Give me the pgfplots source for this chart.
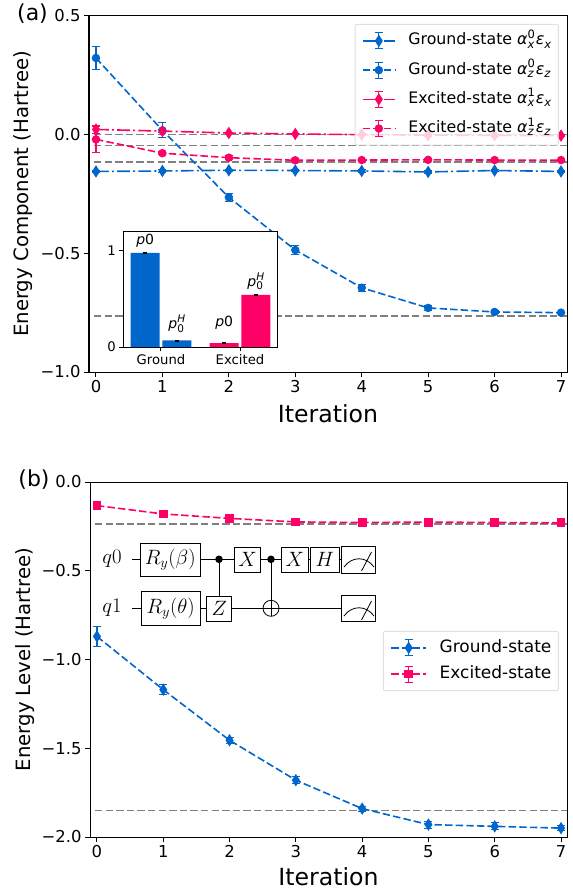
\documentclass[border=0pt]{standalone}
\usepackage[no-math]{fontspec}
\setmainfont{DejaVu Sans}
\usepackage{pgfplots}
\pgfplotsset{compat=1.18}
\definecolor{cblue}{HTML}{0066CC}
\definecolor{cpink}{HTML}{FF0066}
\newcommand{\fs}[1]{\fontsize{#1}{#1}\selectfont}
\newcommand{\subsup}[2]{\rlap{\raisebox{-0.4ex}{\fs{11.5}\textit{#1}}}\raisebox{0.75ex}{\fs{11.5}#2}\hspace{1pt}}
\newcommand{\legsub}[1]{\raisebox{-0.4ex}{\fs{11.5}\textit{#1}}}
\newcommand{\pnot}{\textit{p}0}
\newcommand{\pH}{\textit{p}\rlap{\raisebox{-0.45ex}{\fs{10.5}0}}\raisebox{0.8ex}{\fs{10.5}\textit{H}}}
\def\LLh{16pt}\def\LLw{32pt}
\pgfplotsset{
  mainax/.style={
    scale only axis, anchor=south west, width=478pt, height=356pt,
    xmin=-0.105, xmax=7.09,
    xtick={0,1,2,3,4,5,6,7},
    xtick pos=bottom, ytick pos=left,
    tick align=outside, major tick length=5pt,
    tick style={black,line width=1pt},
    axis line style={line width=1pt},
    ticklabel style={font=\fs{16.4}},
    /pgf/number format/assume math mode=true,
    xlabel=Iteration,
    xlabel style={font=\fs{23.6},anchor=center},
    ylabel style={font=\fs{19.7},at={(axis description cs:-0.137,0.5)},anchor=center},
  },
  errs/.style={error bars/.cd, y dir=both, y explicit,
    error bar style={solid,line width=1.2pt},
    error mark options={solid,rotate=90,mark size=4pt,line width=1pt}},
  dashA/.style={dash pattern=on 7.4pt off 3.2pt},
  dashB/.style={dash pattern=on 12.8pt off 3.2pt on 2pt off 3.2pt},
  ref/.style={gray,line width=1.6pt,dashA,forget plot,mark=none},
  thind/.style={mark=diamond*,mark size=4.8pt,mark options={solid,xscale=0.85}},
  leg/.style={
    legend image code/.code={
      \path[draw=none,fill=none] (0pt,0pt) rectangle (\LLw+13.5pt,0.01pt);
      \draw[##1,mark=none,solid,line width=1.2pt,opacity=1] (\LLh,-8pt)--(\LLh,8pt);
      \draw[##1,mark=none,solid,line width=1pt,opacity=1] (\LLh-4pt,8pt)--(\LLh+4pt,8pt) (\LLh-4pt,-8pt)--(\LLh+4pt,-8pt);
      \draw[##1,opacity=1,mark repeat=2,mark phase=2] plot coordinates {(0pt,0pt)(\LLh,0pt)(\LLw,0pt)};
    },
    legend cell align=left,
  },
}
\begin{document}
\begin{tikzpicture}
\path[use as bounding box] (0pt,0pt) rectangle (572pt,-890pt);
% panel (a)
\begin{axis}[mainax, leg, at={(89pt,-372pt)},
  xlabel style={at={(axis description cs:0.5,-0.118)}},
  ymin=-1, ymax=0.5, ytick={-1,-0.5,0,0.5},
  yticklabels={−1.0,−0.5,0.0,0.5},
  ylabel={Energy Component (Hartree)},
  legend style={at={(axis description cs:0.983,0.978)},anchor=north east,
    font=\fs{15.8}, draw=black!15, line width=1pt, fill=white, fill opacity=0.8, draw opacity=0.8, text opacity=1,
    rounded corners=2pt, row sep=12pt, inner xsep=7pt, inner ysep=8pt,
    nodes={inner sep=0pt, text height=11pt, text depth=3pt}},
]
\addplot[ref] coordinates {(-0.03,0) (7.09,0)};
\addplot[ref] coordinates {(-0.03,-0.046) (7.09,-0.046)};
\addplot[ref] coordinates {(-0.03,-0.114) (7.09,-0.114)};
\addplot[ref] coordinates {(-0.03,-0.765) (7.09,-0.765)};
\addplot[cblue,line width=1.6pt,dashB,thind,errs] coordinates {
 (0,-0.155)+-(0,0.006) (1,-0.153)+-(0,0.006) (2,-0.150)+-(0,0.005) (3,-0.151)+-(0,0.005)
 (4,-0.153)+-(0,0.005) (5,-0.157)+-(0,0.005) (6,-0.151)+-(0,0.005) (7,-0.155)+-(0,0.005)};
\addlegendentry{Ground-state \textit{α}\subsup{x}{0}\textit{ε}\legsub{x}}
\addplot[cblue,line width=1.6pt,dashA,mark=*,mark size=3.4pt,mark options={solid},errs] coordinates {
 (0,0.323)+-(0,0.05) (1,0.018)+-(0,0.032) (2,-0.264)+-(0,0.016) (3,-0.486)+-(0,0.017)
 (4,-0.645)+-(0,0.014) (5,-0.73)+-(0,0.010) (6,-0.747)+-(0,0.008) (7,-0.75)+-(0,0.002)};
\addlegendentry{Ground-state \textit{α}\subsup{z}{0}\textit{ε}\legsub{z}}
\addplot[cpink,line width=1.6pt,dashB,thind,errs] coordinates {
 (0,0.022)+-(0,0.015) (1,0.015)+-(0,0.006) (2,0.007)+-(0,0.004) (3,0.003)+-(0,0.004)
 (4,0)+-(0,0.004) (5,-0.002)+-(0,0.004) (6,-0.003)+-(0,0.004) (7,-0.004)+-(0,0.004)};
\addlegendentry{Excited-state \textit{α}\subsup{x}{1}\textit{ε}\legsub{x}}
\addplot[cpink,line width=1.6pt,dashA,mark=*,mark size=3.4pt,mark options={solid},errs] coordinates {
 (0,-0.02)+-(0,0.055) (1,-0.078)+-(0,0.006) (2,-0.097)+-(0,0.008) (3,-0.108)+-(0,0.006)
 (4,-0.107)+-(0,0.004) (5,-0.106)+-(0,0.004) (6,-0.107)+-(0,0.004) (7,-0.107)+-(0,0.004)};
\addlegendentry{Excited-state \textit{α}\subsup{z}{1}\textit{ε}\legsub{z}}
\end{axis}
% inset
\begin{axis}[scale only axis, anchor=south west, at={(123.3pt,-347pt)}, width=154pt, height=115.7pt,
  axis background/.style={fill=white},
  xmin=-0.477, xmax=1.472, ymin=0, ymax=1.2,
  xtick={0,1}, xticklabels={Ground,Excited}, ytick={0,1}, yticklabels={0,1},
  xtick pos=bottom, ytick pos=left, tick align=outside, major tick length=4pt,
  tick style={black,line width=1pt}, axis line style={line width=1pt},
  ticklabel style={font=\fs{13.2}},
  clip=false,
]
\addplot[ybar,bar width=0.367,bar shift=0pt,fill=cblue,draw=none,
  error bars/.cd,y dir=both,y explicit,error bar style={black,line width=0.7pt}] coordinates {(-0.2,0.976)+-(0,0.003) (0.2,0.07)+-(0,0.005)};
\addplot[ybar,bar width=0.367,bar shift=0pt,fill=cpink,draw=none,
  error bars/.cd,y dir=both,y explicit,error bar style={black,line width=0.7pt}] coordinates {(0.8,0.04)+-(0,0.005) (1.2,0.54)+-(0,0.003)};
\node[font=\fs{14}] at (axis cs:-0.2,1.10) {\pnot};
\node[font=\fs{14}] at (axis cs:0.2,0.24) {\pH};
\node[font=\fs{14}] at (axis cs:0.8,0.25) {\pnot};
\node[font=\fs{14}] at (axis cs:1.2,0.68) {\pH};
\end{axis}
% panel (b)
\def\LLh{17.5pt}\def\LLw{35pt}
\begin{axis}[mainax, leg, at={(90pt,-837pt)}, width=477pt, height=355pt,
  xlabel style={at={(axis description cs:0.5,-0.112)}},
  ymin=-2, ymax=0, ytick={-2,-1.5,-1,-0.5,0},
  yticklabels={−2.0,−1.5,−1.0,−0.5,0.0},
  ylabel={Energy Level (Hartree)},
  legend style={at={(axis description cs:0.983,0.581)},anchor=north east,
    font=\fs{17}, draw=black!15, line width=1pt, fill=white, fill opacity=0.8, draw opacity=0.8, text opacity=1,
    rounded corners=2pt, row sep=9pt, inner xsep=7pt, inner ysep=8pt,
    nodes={inner sep=0pt, text height=12pt, text depth=3pt}},
]
\addplot[ref] coordinates {(-0.03,-0.235) (7.09,-0.235)};
\addplot[ref] coordinates {(-0.03,-1.85) (7.09,-1.85)};
\addplot[cblue,line width=1.6pt,dashA,thind,errs] coordinates {
 (0,-0.87)+-(0,0.055) (1,-1.17)+-(0,0.027) (2,-1.455)+-(0,0.017) (3,-1.68)+-(0,0.02)
 (4,-1.84)+-(0,0.014) (5,-1.93)+-(0,0.02) (6,-1.94)+-(0,0.02) (7,-1.95)+-(0,0.016)};
\addlegendentry{Ground-state}
\addplot[cpink,line width=1.6pt,dashA,mark=square*,mark size=3.6pt,mark options={solid},errs] coordinates {
 (0,-0.133)+-(0,0.006) (1,-0.18)+-(0,0.006) (2,-0.205)+-(0,0.005) (3,-0.225)+-(0,0.005)
 (4,-0.228)+-(0,0.005) (5,-0.226)+-(0,0.005) (6,-0.228)+-(0,0.005) (7,-0.23)+-(0,0.005)};
\addlegendentry{Excited-state}
\end{axis}
% panel labels
\node[font=\fs{22},anchor=center] at (32.5pt,-13.5pt) {(a)};
\node[font=\fs{22},anchor=center] at (34pt,-480pt) {(b)};
% circuit
\begin{scope}[x=1pt,y=-1pt,line width=0.8pt,
  gate/.style={draw=black,fill=white,line width=1pt},
  txt/.style={font=\fs{21},inner sep=0pt}]
\draw (131.7,559.3)--(341.7,559.3);
\draw (131.7,608.3)--(341.7,608.3);
\draw (219,559.3)--(219,596);
\draw (271,559.3)--(271,616.3);
\fill (219,559.3) circle (3.8);
\fill (271,559.3) circle (3.8);
\draw (271,608.3) circle (8);
\draw[gate] (140,543.3) rectangle (200.7,576);
\draw[gate] (141,591.7) rectangle (200.5,625);
\draw[gate] (206.7,596) rectangle (231.7,621);
\draw[gate] (234.3,547.3) rectangle (260.7,572.5);
\draw[gate] (281.7,547.3) rectangle (308,572.5);
\draw[gate] (310.7,547.3) rectangle (339,572.5);
\draw[gate] (341.7,546) rectangle (375.7,573.3);
\draw[gate] (341.7,595) rectangle (375.7,621.7);
\draw (344,567) .. controls (352,556) and (366,556) .. (374,567);
\draw (361.5,571)--(371.5,552);
\draw (344,616) .. controls (352,605) and (366,605) .. (374,616);
\draw (361.5,620)--(371.5,601);
\node[txt] at (112,559.3) {$q0$};
\node[txt] at (112,608.3) {$q1$};
\node[txt] at (170.3,559.6) {$R_y(\beta)$};
\node[txt] at (170.7,608.3) {$R_y(\theta)$};
\node[txt] at (219.2,608.5) {$Z$};
\node[txt] at (247.5,559.9) {$X$};
\node[txt] at (294.8,559.9) {$X$};
\node[txt] at (324.8,559.9) {$H$};
\end{scope}
\end{tikzpicture}
\end{document}
